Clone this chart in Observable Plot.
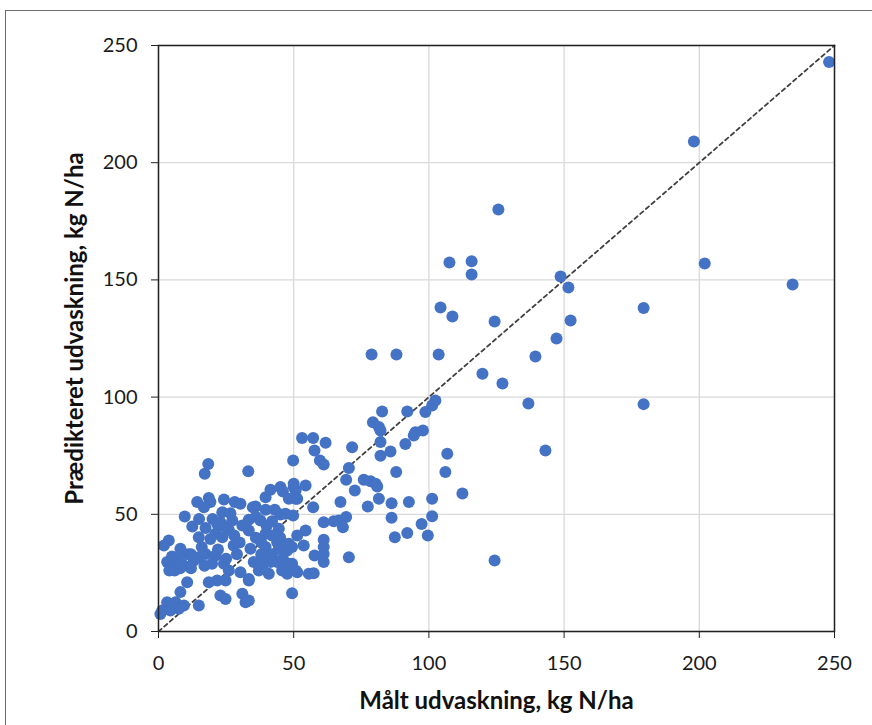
<!DOCTYPE html>
<html>
<head>
<meta charset="utf-8">
<script src="https://cdn.jsdelivr.net/npm/d3@7"></script>
<script src="https://cdn.jsdelivr.net/npm/@observablehq/plot@0.6"></script>
<style>
  html, body { margin: 0; padding: 0; background: #fff; overflow: hidden; }
  #wrap { position: relative; width: 872px; height: 725px; }
  #border { position: absolute; left: 5px; top: 10px; width: 900px; height: 800px; border: 1px solid #6b6b6b; box-sizing: border-box; }
  #chart { position: absolute; left: 0; top: 0; }
  svg { font-family: Lato, "Open Sans", sans-serif; }
</style>
</head>
<body>
<div id="wrap"><div id="border"></div><div id="chart"></div></div>
<script>
// Measured leaching (x) and predicted leaching (y), kg N/ha
const measured = [
  248,198,202,234.5,179.4,179.4,125.7,107.6,115.8,115.8,148.7,151.6,152.4,104.3,108.7,124.3,147.2,139.4,78.8,88,103.6,119.8,127.2,136.8,143.1,112.4,124.3,
  82.7,92,79.3,81.5,82.1,98.7,101.2,102.4,95,94.4,97.8,91.3,82.1,85.8,82.1,71.6,70.4,69.4,72.6,75.9,78.4,80.3,80.9,87.9,67.3,77.4,81.5,86.2,92.6,101.2,66.7,69.4,68.2,86.2,87.4,92,97.3,101.2,99.6,70.4,106.1,106.8,
  53.1,57.2,61.8,57.7,59.7,61.1,54.4,49.8,50,50.7,57.2,49.8,61.1,64.8,51.3,54.4,53.7,61.1,61.1,61.1,61.1,57.7,51.3,55.6,57.4,49.4,49.4,49.4,
  33.2,41.4,45.1,46,50,50.7,48.2,51.3,39.6,35.9,39.6,43,45.1,47,37.7,42,33.4,
  39.6,44.5,33.4,34,35.2,33.4,33.4,38.9,41.4,43.9,45.7,48.2,50.7,47.6,40.8,37.1,44.5,47.6,43.9,48.2,39.6,40.2,
  18.4,17.1,14.3,18.6,19.2,24.2,28.2,30.3,34.9,9.7,16.8,23.6,26.6,12.5,17.4,22.9,27.3,31,21.1,14.9,26,3.8,
  2,8.1,19.2,23.6,27.8,3.2,5.7,9.4,13.1,14.9,17.4,21.1,19.8,24.2,26,30.3,33.4,24.8,21.7,18.6,10.6,8.1,31,32.2,22.9,24.8,14.9,3.2,1.4,6.3,7.5,4.4,9.4,
  6,11,16,12,22,29,25,17,8,28,30,36,38,42,36,40,20,15,24,0.7,21.7,45,
  5,8,12,4,38,42,46
];
const predicted = [
  243,209,157,148,138,97,180,157.4,158,152.3,151.5,146.8,132.7,138.2,134.4,132.3,125,117.3,118.2,118.2,118.2,110,105.8,97.3,77.2,58.9,30.3,
  93.9,93.9,89.3,87.2,85.8,93.6,96.4,98.5,85,83.6,85.8,80,80.8,76.8,75,78.6,69.8,64.7,60.2,64.7,64.1,63,61.9,68,55.2,53.3,56.6,54.7,55.2,56.6,47.4,48.8,44.5,48.5,40.2,42,45.9,49.2,41,31.7,68,75.8,
  82.6,82.6,80.5,77.2,73,71.2,62.3,73,61.6,56.6,53,49.5,46.6,47,41,43.1,36.7,39.1,36,33.1,29.6,32.4,25.3,24.6,24.9,28.9,16.3,36,
  68.4,60.5,61.6,59.7,63,60.2,56.6,56.6,57.3,53.3,51.9,51.9,49.9,50.2,47.4,47,47.7,
  41.7,43.8,43.1,35.3,29.6,21.8,13.2,28.9,29.6,29.6,26,28.9,26,24.6,24.6,26,35.3,34.6,38.1,37.4,36,31.7,
  71.5,67.3,55.2,57,55.2,56.3,55.2,54.5,53,49.1,53,50.9,50.5,44.8,44.2,46.6,47.4,45.2,41.7,40.2,43.4,38.8,
  36.7,35.3,39.5,40.2,36.7,29.6,28.9,28.2,30.3,31.7,33.1,32.4,28.9,28.9,26,25.3,22.4,21.8,21.8,21,21,16.8,16.1,12.5,15.4,13.9,11.1,12.5,9,12.5,9.7,9,11.1,
  26,33,36,27,35,33,31,28,31,41,38,40,33,41,49,45,48,48,45,7.5,45.9,40,
  32,27,33,26,38,33,31
];
const ticks = [0, 50, 100, 150, 200, 250];
const xTitle = "Målt udvaskning, kg N/ha";
const yTitle = "Prædikteret udvaskning, kg N/ha";
const identity = [{x: 0, y: 0}, {x: 250, y: 250}];

const data = measured.map((m, i) => ({x: m, y: predicted[i]}));

const chart = Plot.plot({
  width: 872,
  height: 725,
  marginLeft: 158,
  marginRight: 38,
  marginTop: 45,
  marginBottom: 94,
  style: {fontFamily: "Lato, 'Open Sans', sans-serif", fontSize: "20px", color: "#1a1a1a", background: "transparent"},
  x: {domain: [0, 250], ticks: ticks},
  y: {domain: [0, 250], ticks: ticks},
  marks: [
    Plot.gridX(ticks, {stroke: "#d9d9d9", strokeOpacity: 1, strokeWidth: 1.3}),
    Plot.gridY(ticks, {stroke: "#d9d9d9", strokeOpacity: 1, strokeWidth: 1.3}),
    Plot.line(identity, {x: "x", y: "y", stroke: "#404040", strokeWidth: 1.8, strokeDasharray: "4,3.5"}),
    Plot.dot(data, {x: "x", y: "y", r: 6, fill: "#4472C4", stroke: "none"}),
    Plot.frame({stroke: "#222", strokeWidth: 1.5}),
    Plot.axisX({ticks: ticks, tickSize: 7, tickPadding: 17, label: null, stroke: "#222", tickFormat: d3.format("d")}),
    Plot.axisY({ticks: ticks, tickSize: 7, tickPadding: 14, label: null, stroke: "#222", tickFormat: d3.format("d")}),
    Plot.text([xTitle], {frameAnchor: "bottom", dy: 70, lineAnchor: "middle", textAnchor: "middle", text: d => d, fontWeight: "bold", fontSize: 24, fill: "#111"}),
    Plot.text([yTitle], {frameAnchor: "left", dx: -83, dy: -10, rotate: -90, lineAnchor: "middle", textAnchor: "middle", text: d => d, fontWeight: "bold", fontSize: 24, fill: "#111"})
  ]
});
document.getElementById("chart").appendChild(chart);
</script>
</body>
</html>
